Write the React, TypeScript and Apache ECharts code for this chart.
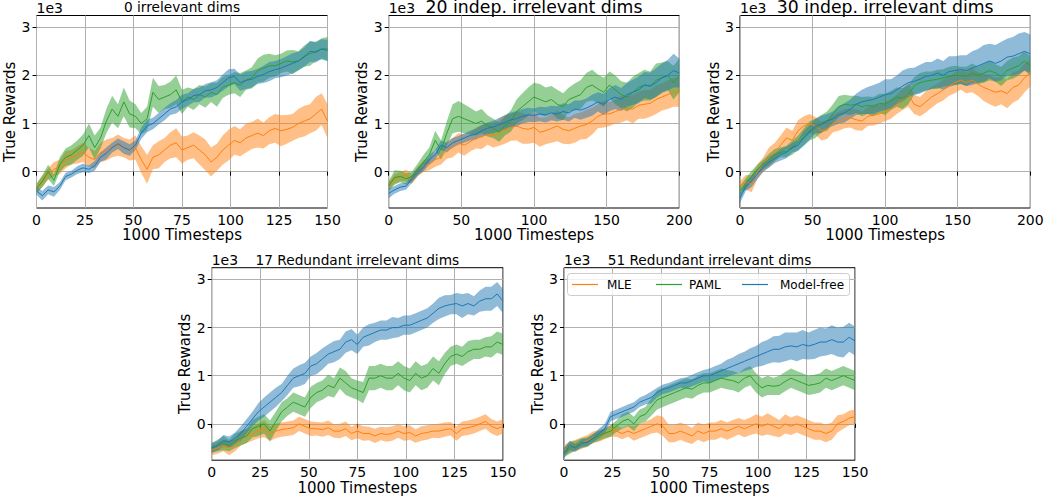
import React, { useEffect, useRef } from "react";
import * as echarts from "echarts";

// x positions (1000 timesteps)
const X150 = [0,3,6,9,12,15,18,21,24,27,30,33,36,39,42,45,48,51,54,57,60,63,66,69,72,75,78,81,84,87,90,93,96,99,102,105,108,111,114,117,120,123,126,129,132,135,138,141,144,147,150];
const X200 = [0,4,8,12,16,20,24,28,32,36,40,44,48,52,56,60,64,68,72,76,80,84,88,92,96,100,104,108,112,116,120,124,128,132,136,140,144,148,152,156,160,164,168,172,176,180,184,188,192,196,200];

const Y_TICKS = [0, 1, 2, 3];
const METHODS = ["MLE", "PAML", "Model-free"];

// ---- Panel 1: 0 irrelevant dims (values in 1e3) ----
const P1_MLE = [-0.35,-0.2,-0.05,0.05,0.1,0.25,0.3,0.35,0.4,0.3,0.25,0.4,0.45,0.5,0.55,0.5,0.45,0.5,0.25,0.05,0.3,0.35,0.45,0.55,0.6,0.45,0.5,0.55,0.45,0.35,0.2,0.3,0.45,0.55,0.65,0.6,0.7,0.75,0.8,0.75,0.85,0.9,0.85,0.88,0.92,1.0,1.05,1.1,1.2,1.3,1.05];
const P1_MLE_SD = [0.1,0.12,0.12,0.15,0.15,0.18,0.15,0.18,0.2,0.2,0.18,0.2,0.22,0.2,0.22,0.2,0.22,0.25,0.28,0.3,0.25,0.28,0.25,0.27,0.3,0.28,0.25,0.27,0.3,0.32,0.3,0.28,0.3,0.32,0.3,0.28,0.3,0.28,0.3,0.27,0.28,0.3,0.32,0.3,0.28,0.3,0.32,0.3,0.35,0.33,0.35];
const P1_PAML = [-0.35,-0.2,0.0,-0.18,0.15,0.3,0.35,0.45,0.55,0.75,0.5,0.7,1.05,1.3,1.15,1.45,1.2,1.15,1.0,1.1,1.65,1.5,1.55,1.6,1.7,1.45,1.55,1.5,1.6,1.55,1.65,1.6,1.75,1.8,1.85,1.8,1.9,1.95,2.1,2.15,2.2,2.2,2.25,2.3,2.28,2.3,2.4,2.45,2.5,2.55,2.55];
const P1_PAML_SD = [0.1,0.12,0.15,0.12,0.15,0.18,0.2,0.2,0.22,0.25,0.25,0.22,0.25,0.28,0.25,0.3,0.28,0.25,0.22,0.25,0.3,0.28,0.25,0.27,0.3,0.25,0.2,0.22,0.2,0.22,0.2,0.25,0.22,0.2,0.22,0.25,0.2,0.22,0.25,0.28,0.25,0.22,0.2,0.22,0.25,0.2,0.22,0.25,0.2,0.22,0.25];
const P1_MF = [-0.4,-0.5,-0.38,-0.42,-0.3,-0.1,-0.05,0.03,0.08,0.05,0.12,0.3,0.38,0.5,0.58,0.5,0.45,0.55,0.8,0.95,1.0,1.1,1.2,1.3,1.35,1.45,1.5,1.58,1.6,1.68,1.7,1.75,1.85,1.95,1.98,1.85,1.9,1.92,1.98,2.02,2.08,2.12,2.15,2.2,2.25,2.3,2.38,2.5,2.48,2.55,2.52];
const P1_MF_SD = [0.08,0.1,0.09,0.1,0.08,0.08,0.07,0.08,0.09,0.08,0.1,0.1,0.12,0.1,0.11,0.13,0.12,0.1,0.12,0.13,0.12,0.12,0.13,0.12,0.14,0.15,0.13,0.14,0.15,0.14,0.16,0.15,0.17,0.18,0.16,0.17,0.18,0.17,0.16,0.18,0.2,0.18,0.19,0.2,0.21,0.19,0.2,0.22,0.21,0.2,0.22];

// ---- Panel 2: 20 indep. irrelevant dims ----
const P2_MLE = [-0.3,-0.15,-0.1,-0.08,-0.15,0.0,0.12,0.15,0.25,0.3,0.45,0.5,0.6,0.55,0.62,0.7,0.72,0.78,0.75,0.82,0.88,0.92,0.95,0.9,0.88,0.92,0.82,0.85,0.9,0.95,0.88,0.85,0.9,0.95,0.98,1.05,1.15,1.2,1.2,1.25,1.3,1.32,1.3,1.38,1.4,1.42,1.5,1.55,1.6,1.65,1.65];
const P2_MLE_SD = [0.08,0.1,0.1,0.12,0.1,0.1,0.12,0.12,0.15,0.15,0.18,0.2,0.2,0.22,0.2,0.22,0.25,0.22,0.25,0.28,0.3,0.28,0.3,0.32,0.3,0.32,0.3,0.28,0.3,0.32,0.3,0.28,0.3,0.28,0.3,0.28,0.25,0.28,0.25,0.25,0.28,0.25,0.3,0.28,0.3,0.28,0.3,0.28,0.3,0.3,0.3];
const P2_PAML = [-0.3,-0.12,-0.1,-0.15,-0.1,0.05,0.2,0.35,0.65,0.45,0.8,1.1,1.15,1.1,1.05,1.0,1.05,0.95,0.9,0.82,0.95,1.05,1.25,1.35,1.45,1.55,1.5,1.45,1.5,1.4,1.35,1.5,1.55,1.6,1.75,1.8,1.72,1.65,1.8,1.7,1.6,1.55,1.65,1.75,1.8,1.78,1.9,1.95,2.0,1.85,2.0];
const P2_PAML_SD = [0.1,0.15,0.12,0.12,0.1,0.12,0.15,0.15,0.2,0.2,0.25,0.3,0.32,0.3,0.28,0.25,0.25,0.22,0.2,0.2,0.2,0.22,0.25,0.28,0.3,0.3,0.32,0.3,0.28,0.3,0.28,0.25,0.28,0.3,0.3,0.32,0.3,0.3,0.28,0.3,0.28,0.3,0.32,0.3,0.32,0.3,0.35,0.32,0.3,0.35,0.35];
const P2_MF = [-0.45,-0.38,-0.32,-0.3,-0.15,0.0,0.1,0.25,0.35,0.55,0.5,0.6,0.65,0.7,0.75,0.78,0.85,0.9,0.93,0.98,1.02,1.08,1.1,1.15,1.18,1.17,1.2,1.18,1.22,1.2,1.25,1.22,1.3,1.28,1.32,1.38,1.45,1.4,1.5,1.55,1.5,1.6,1.65,1.7,1.8,1.78,1.85,1.95,2.0,2.1,2.05];
const P2_MF_SD = [0.1,0.08,0.08,0.07,0.08,0.08,0.09,0.1,0.1,0.1,0.1,0.1,0.09,0.1,0.1,0.11,0.12,0.12,0.13,0.14,0.15,0.15,0.16,0.15,0.15,0.14,0.15,0.16,0.15,0.16,0.17,0.18,0.18,0.2,0.2,0.22,0.2,0.22,0.24,0.25,0.24,0.25,0.26,0.28,0.27,0.28,0.3,0.3,0.32,0.35,0.3];

// ---- Panel 3: 30 indep. irrelevant dims ----
const P3_MLE = [-0.3,-0.22,-0.25,0.0,0.15,0.3,0.4,0.55,0.7,0.65,0.85,0.95,1.0,0.95,0.85,0.88,1.0,1.05,1.1,1.12,1.08,1.05,1.15,1.18,1.2,1.25,1.3,1.4,1.5,1.6,1.4,1.35,1.45,1.55,1.62,1.7,1.78,1.85,1.9,1.85,1.9,1.82,1.75,1.7,1.65,1.68,1.62,1.75,1.8,1.95,2.05];
const P3_MLE_SD = [0.1,0.15,0.18,0.15,0.15,0.2,0.2,0.2,0.22,0.2,0.22,0.2,0.2,0.18,0.2,0.2,0.18,0.2,0.2,0.2,0.22,0.2,0.2,0.22,0.2,0.2,0.2,0.2,0.22,0.25,0.2,0.2,0.22,0.22,0.2,0.22,0.2,0.22,0.2,0.22,0.25,0.25,0.28,0.3,0.3,0.28,0.3,0.32,0.3,0.3,0.28];
const P3_PAML = [-0.4,-0.25,-0.1,0.05,0.15,0.25,0.35,0.4,0.42,0.5,0.6,0.72,0.85,0.9,1.0,1.05,1.2,1.35,1.4,1.38,1.4,1.35,1.38,1.35,1.42,1.4,1.48,1.55,1.52,1.6,1.78,1.85,1.88,1.9,1.92,1.95,1.98,2.0,2.0,1.98,2.05,2.0,2.05,2.1,2.05,1.98,2.1,2.15,2.2,2.3,2.2];
const P3_PAML_SD = [0.1,0.12,0.12,0.1,0.1,0.12,0.12,0.1,0.12,0.15,0.15,0.18,0.2,0.2,0.18,0.2,0.2,0.22,0.2,0.2,0.18,0.2,0.18,0.2,0.2,0.22,0.2,0.2,0.22,0.2,0.18,0.2,0.2,0.18,0.2,0.18,0.2,0.2,0.18,0.2,0.2,0.18,0.2,0.2,0.18,0.2,0.2,0.22,0.2,0.2,0.2];
const P3_MF = [-0.55,-0.3,-0.2,-0.05,0.1,0.2,0.28,0.35,0.4,0.5,0.55,0.7,0.82,0.95,0.98,1.05,1.1,1.18,1.22,1.3,1.4,1.45,1.48,1.5,1.55,1.6,1.62,1.7,1.78,1.85,1.88,1.92,1.98,2.0,2.05,2.0,2.08,2.1,2.12,2.1,2.15,2.2,2.25,2.3,2.25,2.3,2.38,2.4,2.45,2.5,2.45];
const P3_MF_SD = [0.1,0.1,0.12,0.1,0.1,0.12,0.1,0.12,0.12,0.1,0.12,0.15,0.15,0.15,0.18,0.15,0.15,0.18,0.2,0.2,0.22,0.25,0.28,0.3,0.3,0.32,0.3,0.3,0.32,0.3,0.28,0.3,0.3,0.28,0.3,0.3,0.32,0.3,0.3,0.32,0.35,0.35,0.38,0.36,0.38,0.4,0.38,0.4,0.42,0.4,0.4];

// ---- Panel 4: 17 Redundant irrelevant dims ----
const P4_MLE = [-0.55,-0.5,-0.45,-0.5,-0.45,-0.3,-0.25,-0.2,-0.15,-0.1,-0.2,-0.15,-0.12,-0.1,-0.08,0.0,-0.05,-0.1,-0.1,-0.12,-0.08,-0.15,-0.15,-0.1,-0.2,-0.15,-0.2,-0.2,-0.25,-0.2,-0.22,-0.2,-0.15,-0.2,-0.18,-0.25,-0.2,-0.18,-0.15,-0.15,-0.12,-0.1,-0.2,-0.1,-0.08,-0.05,0.0,0.05,-0.05,-0.1,-0.05];
const P4_MLE_SD = [0.1,0.12,0.12,0.15,0.12,0.15,0.15,0.15,0.15,0.18,0.15,0.15,0.15,0.15,0.15,0.15,0.15,0.15,0.14,0.15,0.15,0.14,0.15,0.15,0.14,0.15,0.15,0.14,0.15,0.14,0.15,0.15,0.14,0.15,0.15,0.14,0.15,0.15,0.14,0.15,0.15,0.14,0.15,0.15,0.15,0.15,0.15,0.15,0.15,0.15,0.15];
const P4_PAML = [-0.5,-0.45,-0.4,-0.45,-0.35,-0.3,-0.25,-0.1,-0.05,0.0,-0.15,0.05,0.25,0.35,0.45,0.4,0.35,0.55,0.65,0.7,0.8,0.75,0.95,0.85,0.75,0.7,0.65,0.95,0.95,1.0,0.95,0.95,1.05,0.95,0.9,1.05,0.95,1.0,1.15,1.05,1.25,1.4,1.45,1.4,1.5,1.55,1.55,1.6,1.6,1.7,1.65];
const P4_PAML_SD = [0.1,0.12,0.15,0.12,0.15,0.15,0.15,0.18,0.2,0.2,0.22,0.2,0.2,0.18,0.2,0.2,0.2,0.22,0.2,0.2,0.22,0.2,0.22,0.25,0.2,0.2,0.22,0.25,0.25,0.25,0.25,0.25,0.25,0.25,0.25,0.25,0.25,0.25,0.25,0.25,0.22,0.2,0.2,0.2,0.22,0.2,0.2,0.2,0.22,0.22,0.22];
const P4_MF = [-0.5,-0.45,-0.35,-0.38,-0.3,-0.2,-0.05,0.1,0.25,0.35,0.45,0.55,0.65,0.8,0.95,1.0,1.05,1.2,1.25,1.35,1.45,1.5,1.55,1.7,1.75,1.65,1.8,1.85,1.9,1.95,1.95,2.0,2.0,2.05,2.05,2.1,2.15,2.2,2.3,2.4,2.45,2.48,2.5,2.45,2.5,2.45,2.55,2.6,2.6,2.7,2.55];
const P4_MF_SD = [0.1,0.1,0.12,0.12,0.12,0.15,0.15,0.15,0.18,0.2,0.2,0.2,0.18,0.2,0.2,0.22,0.22,0.2,0.22,0.22,0.2,0.22,0.2,0.22,0.22,0.2,0.2,0.22,0.2,0.2,0.2,0.22,0.2,0.2,0.2,0.2,0.2,0.2,0.2,0.22,0.22,0.2,0.22,0.25,0.22,0.2,0.22,0.25,0.25,0.25,0.25];

// ---- Panel 5: 51 Redundant irrelevant dims ----
const P5_MLE = [-0.55,-0.48,-0.45,-0.4,-0.35,-0.28,-0.25,-0.2,-0.15,-0.15,-0.2,-0.15,-0.2,-0.15,-0.1,-0.05,0.0,-0.05,-0.2,-0.2,-0.15,-0.2,-0.25,-0.15,-0.2,-0.15,-0.15,-0.1,-0.15,-0.1,-0.05,-0.1,-0.05,0.0,-0.05,0.0,-0.05,-0.1,0.0,-0.05,0.0,-0.05,-0.1,-0.15,-0.15,-0.2,-0.15,0.0,0.05,0.12,0.15];
const P5_MLE_SD = [0.1,0.12,0.12,0.12,0.12,0.12,0.12,0.12,0.12,0.12,0.12,0.12,0.15,0.15,0.15,0.15,0.18,0.2,0.18,0.18,0.18,0.18,0.17,0.18,0.18,0.18,0.18,0.18,0.18,0.18,0.17,0.18,0.18,0.2,0.2,0.22,0.2,0.18,0.2,0.18,0.18,0.18,0.18,0.18,0.18,0.18,0.18,0.18,0.15,0.15,0.15];
const P5_PAML = [-0.6,-0.5,-0.45,-0.4,-0.38,-0.3,-0.25,-0.2,-0.15,-0.05,0.05,0.1,0.0,0.15,0.2,0.35,0.5,0.55,0.6,0.65,0.7,0.75,0.72,0.8,0.85,0.85,0.9,0.95,0.92,0.9,0.85,0.95,1.0,0.85,0.75,0.8,0.78,0.8,0.88,0.95,0.9,0.85,0.8,0.82,0.85,0.95,0.9,0.95,1.0,0.95,0.9];
const P5_PAML_SD = [0.1,0.12,0.1,0.1,0.1,0.1,0.1,0.1,0.12,0.12,0.15,0.15,0.15,0.15,0.15,0.18,0.2,0.2,0.2,0.2,0.2,0.2,0.2,0.2,0.2,0.2,0.2,0.2,0.2,0.2,0.2,0.2,0.2,0.2,0.2,0.2,0.18,0.2,0.2,0.2,0.2,0.2,0.2,0.2,0.2,0.2,0.2,0.2,0.2,0.2,0.2];
const P5_MF = [-0.6,-0.45,-0.5,-0.4,-0.38,-0.3,-0.2,-0.1,0.15,0.2,0.25,0.3,0.35,0.45,0.5,0.55,0.65,0.72,0.75,0.8,0.85,0.85,0.9,0.95,1.0,1.0,1.05,1.1,1.15,1.2,1.25,1.3,1.35,1.4,1.45,1.5,1.55,1.55,1.6,1.62,1.6,1.65,1.62,1.65,1.7,1.7,1.75,1.7,1.7,1.8,1.72];
const P5_MF_SD = [0.1,0.1,0.08,0.08,0.08,0.08,0.1,0.1,0.1,0.1,0.1,0.1,0.1,0.1,0.1,0.12,0.1,0.1,0.1,0.1,0.1,0.12,0.12,0.12,0.12,0.15,0.15,0.15,0.18,0.18,0.2,0.2,0.22,0.22,0.25,0.25,0.27,0.28,0.3,0.28,0.3,0.3,0.28,0.3,0.3,0.28,0.3,0.3,0.32,0.3,0.3];

const TITLES = [
  "0 irrelevant dims",
  "20 indep. irrelevant dims",
  "30 indep. irrelevant dims",
  "17 Redundant irrelevant dims",
  "51 Redundant irrelevant dims",
];

const COLORS = ["#ff7f0e", "#2ca02c", "#1f77b4"];
const BAND = ["rgba(255,127,14,0.5)", "rgba(44,160,44,0.5)", "rgba(31,119,180,0.5)"];

const FONT = "DejaVu Sans";

const PANELS = [
  { x: X150, xMax: 150, xInt: 25, series: [[P1_MLE, P1_MLE_SD], [P1_PAML, P1_PAML_SD], [P1_MF, P1_MF_SD]], left: 36.5, top: 15.5, width: 291, height: 192.5, titleSize: 13.7, titleY: 6.7 },
  { x: X200, xMax: 200, xInt: 50, series: [[P2_MLE, P2_MLE_SD], [P2_PAML, P2_PAML_SD], [P2_MF, P2_MF_SD]], left: 388.7, top: 15.5, width: 290.6, height: 192.5, titleSize: 17.3, titleY: 6.6 },
  { x: X200, xMax: 200, xInt: 50, series: [[P3_MLE, P3_MLE_SD], [P3_PAML, P3_PAML_SD], [P3_MF, P3_MF_SD]], left: 740, top: 15.5, width: 290.3, height: 192.5, titleSize: 17.3, titleY: 6.6 },
  { x: X150, xMax: 150, xInt: 25, series: [[P4_MLE, P4_MLE_SD], [P4_PAML, P4_PAML_SD], [P4_MF, P4_MF_SD]], left: 211.7, top: 267.7, width: 291.3, height: 192.5, titleSize: 13.7, titleY: 259.8 },
  { x: X150, xMax: 150, xInt: 25, series: [[P5_MLE, P5_MLE_SD], [P5_PAML, P5_PAML_SD], [P5_MF, P5_MF_SD]], left: 564, top: 267.7, width: 291, height: 192.5, titleSize: 13.7, titleY: 259.8 },
];

const Y_MIN = -0.755;
const Y_MAX = 3.245;

function buildOption() {
  const grid: any[] = [];
  const xAxis: any[] = [];
  const yAxis: any[] = [];
  const series: any[] = [];
  const graphic: any[] = [];

  PANELS.forEach((p, gi) => {
    grid.push({
      left: p.left, top: p.top, width: p.width, height: p.height,
      show: true, borderColor: "#000", borderWidth: 1, backgroundColor: "transparent",
      containLabel: false,
    });
    xAxis.push({
      type: "value", gridIndex: gi, min: 0, max: p.xMax, interval: p.xInt,
      axisLine: { show: false },
      axisTick: { show: true, length: 4, lineStyle: { color: "#000" } },
      axisLabel: { color: "#000", fontSize: 14, fontFamily: FONT, margin: 5 },
      splitLine: { show: true, lineStyle: { color: "#b0b0b0", width: 1 } },
      name: "1000 Timesteps", nameLocation: "middle", nameGap: 11,
      nameTextStyle: { color: "#000", fontSize: 15, fontFamily: FONT },
    });
    yAxis.push({
      type: "value", gridIndex: gi, min: Y_MIN, max: Y_MAX,
      axisLine: { show: false },
      axisTick: { show: true, length: 4, lineStyle: { color: "#000" }, customValues: Y_TICKS },
      axisLabel: { color: "#000", fontSize: 14, fontFamily: FONT, margin: 6, customValues: Y_TICKS },
      splitLine: { show: true, lineStyle: { color: "#b0b0b0", width: 1 } },
      name: "True Rewards", nameLocation: "middle", nameGap: 7,
      nameTextStyle: { color: "#000", fontSize: 15, fontFamily: FONT },
    });

    p.series.forEach(([mean, sd], mi) => {
      const n = Math.min(p.x.length, mean.length, sd.length);
      const band: number[][] = [];
      const line: number[][] = [];
      for (let j = 0; j < n; j++) {
        band.push([p.x[j], mean[j] - sd[j], mean[j] + sd[j]]);
        line.push([p.x[j], mean[j]]);
      }
      series.push({
        type: "custom", xAxisIndex: gi, yAxisIndex: gi, data: band, silent: true, z: 2,
        encode: { x: 0, y: [1, 2] },
        clip: true,
        renderItem: (params: any, api: any) => {
          if (params.dataIndex !== 0) return null;
          const pts: number[][] = [];
          for (let j = 0; j < band.length; j++) pts.push(api.coord([band[j][0], band[j][2]]));
          for (let j = band.length - 1; j >= 0; j--) pts.push(api.coord([band[j][0], band[j][1]]));
          return {
            type: "polygon",
            shape: { points: pts },
            style: { fill: BAND[mi], stroke: "none" },
          };
        },
      });
      series.push({
        type: "line", xAxisIndex: gi, yAxisIndex: gi, data: line, name: METHODS[mi],
        showSymbol: false, symbol: "none", lineStyle: { color: COLORS[mi], width: 1 }, z: 3,
      });
    });

    graphic.push({
      type: "text", x: p.left + p.width / 2, y: p.titleY,
      style: { text: TITLES[gi], font: `${p.titleSize}px '${FONT}'`, fill: "#000", align: "center", verticalAlign: "middle" },
    });
    graphic.push({
      type: "text", x: p.left, y: p.top - 8,
      style: { text: "1e3", font: `14px '${FONT}'`, fill: "#000", align: "left", verticalAlign: "middle" },
    });
  });

  // legend in panel 5
  const lg = { x: 567.5, y: 273.5, w: 282, h: 22 };
  const cy = lg.y + lg.h / 2;
  graphic.push({
    type: "rect", shape: { x: lg.x, y: lg.y, width: lg.w, height: lg.h, r: 3 },
    style: { fill: "rgba(255,255,255,0.8)", stroke: "#cccccc", lineWidth: 1 }, z: 10,
  });
  const items = [
    { lx: 572, tx: 607 },
    { lx: 656, tx: 689 },
    { lx: 742, tx: 780 },
  ];
  items.forEach((it, i) => {
    graphic.push({
      type: "line", shape: { x1: it.lx, y1: cy, x2: it.lx + 26, y2: cy },
      style: { stroke: COLORS[i], lineWidth: 1.2 }, z: 11,
    });
    graphic.push({
      type: "text", x: it.tx, y: cy, z: 11,
      style: { text: METHODS[i], font: `12px '${FONT}'`, fill: "#000", align: "left", verticalAlign: "middle" },
    });
  });

  return {
    animation: false,
    backgroundColor: "#fff",
    grid, xAxis, yAxis, series, graphic,
  };
}

export default function App() {
  const ref = useRef<HTMLDivElement>(null);
  useEffect(() => {
    if (!ref.current) return;
    const chart = echarts.init(ref.current, undefined, { renderer: "svg" });
    chart.setOption(buildOption() as any);
    return () => chart.dispose();
  }, []);
  return (
    <div
      ref={ref}
      style={{ position: "absolute", left: 0, top: 0, width: 1048, height: 502, background: "#fff" }}
    />
  );
}
